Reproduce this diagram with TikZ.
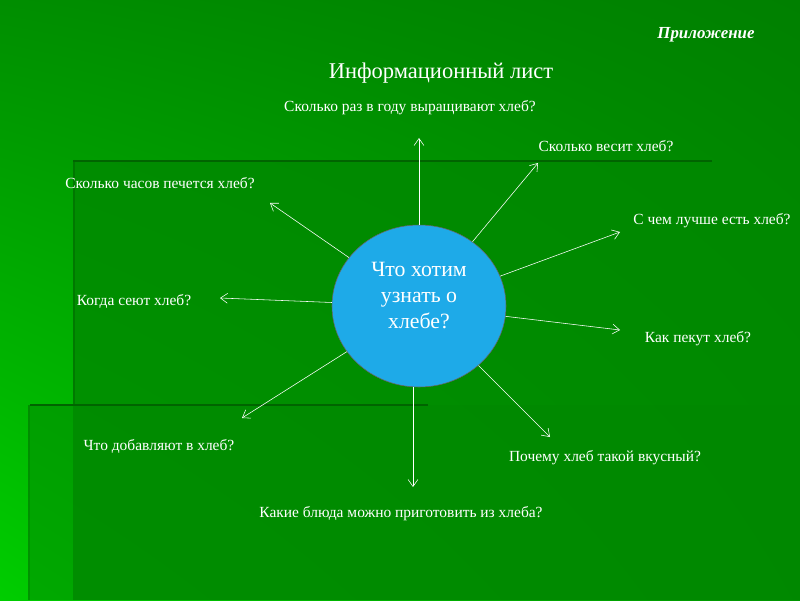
\documentclass[tikz,border=0pt]{standalone}
\usepackage{fontspec}
\setmainfont{Liberation Serif}
\usepackage{xcolor}
\usetikzlibrary{arrows.meta,positioning,shapes.geometric,shadings}

\definecolor{bgtl}{RGB}{0,142,0}
\definecolor{bgtr}{RGB}{0,128,0}
\definecolor{bgbl}{RGB}{0,205,0}
\definecolor{bgbr}{RGB}{0,150,0}
\definecolor{panelgreen}{RGB}{0,136,0}
\definecolor{edgegreen}{RGB}{0,100,0}
\definecolor{skyfill}{RGB}{30,170,232}

\begin{document}
\begin{tikzpicture}[
    question/.style={font=\fontsize{11}{13}\selectfont, text=white, inner sep=1pt},
    hub/.style={ellipse, draw=black!60, fill=skyfill, minimum width=4.35cm, minimum height=4.05cm, inner sep=0pt},
    hubtext/.style={align=center, text=white, font=\fontsize{15.5}{18.5}\selectfont, inner sep=0pt},
    arrow/.style={-{Straight Barb[length=5pt,width=7pt]}, white, thin},
    panel/.style={fill=panelgreen, fill opacity=0.8},
    edgeline/.style={draw=edgegreen, line width=2pt},
]
    % Background
    \useasboundingbox (0,0) rectangle (20,15);
    \shade[upper left=bgtl, upper right=bgtr, lower left=bgbl, lower right=bgbr] (0,0) rectangle (20,15);
    \fill[panel] (1.825,0) rectangle (20,11.0);
    \fill[panel, fill opacity=0.5] (0.7,0) rectangle (20,4.875);
    \draw[edgeline] (1.825,10.975) -- (17.8,10.975);
    \draw[edgeline, line width=1.2pt, draw opacity=0.5] (1.85,11.0) -- (1.85,4.875);
    \draw[edgeline] (0.75,4.875) -- (10.7,4.875);
    \draw[edgeline, line width=1pt, draw opacity=0.3] (0.72,4.875) -- (0.72,0);

    % Headings
    \node[font=\fontsize{12}{14}\selectfont\bfseries\itshape, text=white] (appendix) at (17.65,14.125) {Приложение};
    \node[font=\fontsize{16}{19}\selectfont, text=white] (title) at (11.025,13.175) {Информационный лист};

    % Central question
    \node[hub] (hub) at (10.475,7.35) {};
    \node[hubtext] (hubq) at ([yshift=0.27cm]hub.center) {Что хотим\\узнать о\\хлебе?};

    % Questions around it
    \node[question] (q1) at (10.25,12.3) {Сколько раз в году выращивают хлеб?};
    \node[question] (q2) at (15.15,11.35) {Сколько весит хлеб?};
    \node[question] (q3) at (4.0,10.425) {Сколько часов печется хлеб?};
    \node[question] (q4) at (17.8,9.475) {С чем лучше есть хлеб?};
    \node[question] (q5) at (3.35,7.475) {Когда сеют хлеб?};
    \node[question] (q6) at (17.45,6.525) {Как пекут хлеб?};
    \node[question] (q7) at (3.975,3.85) {Что добавляют в хлеб?};
    \node[question] (q8) at (15.125,3.55) {Почему хлеб такой вкусный?};
    \node[question] (q9) at (10.025,2.15) {Какие блюда можно приготовить из хлеба?};

    % Arrow tips
    \coordinate (t1) at (10.475,11.55);
    \coordinate (t2) at (13.45,10.925);
    \coordinate (t3) at (15.5,9.2);
    \coordinate (t4) at (15.5,6.75);
    \coordinate (t5) at (13.75,4.075);
    \coordinate (t6) at (10.325,2.825);
    \coordinate (t7) at (6.05,4.55);
    \coordinate (t8) at (5.5,7.55);
    \coordinate (t9) at (6.75,9.925);

    \foreach \t in {t1,t2,t3,t4,t5,t7,t8,t9}
        \draw[arrow] (hub) -- (\t);
    \draw[arrow] (t6 |- hub.south) -- (t6);
\end{tikzpicture}
\end{document}
